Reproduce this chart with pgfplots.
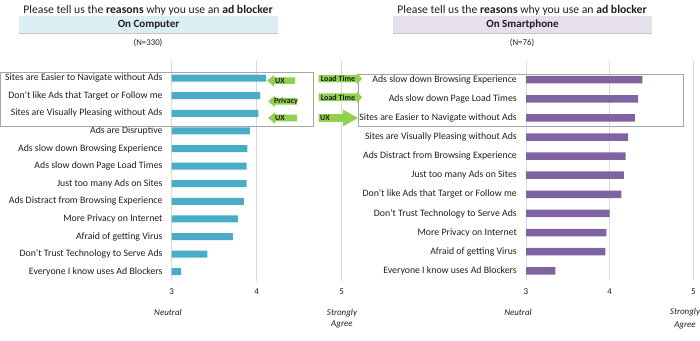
\documentclass[border=0pt]{standalone}
\usepackage{pgfplots}
\pgfplotsset{compat=1.18}
\usepackage{fontspec}
\setmainfont{Carlito}
\definecolor{barL}{HTML}{4BACC6}
\definecolor{barR}{HTML}{8064A2}
\definecolor{gridc}{HTML}{D9D9D9}
\definecolor{arrg}{HTML}{92D050}
\definecolor{bandL}{HTML}{DAEEF3}
\definecolor{bandR}{HTML}{E5E0EC}
\definecolor{boxc}{HTML}{A6A6A6}
\definecolor{txt}{HTML}{1F1F1F}
\newcommand{\larrow}[7]{% tip, base, end, y, bodyhalf, headhalf, text
  \fill[arrg] (#1pt,#4pt) -- (#2pt,#4pt+#6pt) -- (#2pt,#4pt+#5pt) -- (#3pt,#4pt+#5pt) -- (#3pt,#4pt-#5pt) -- (#2pt,#4pt-#5pt) -- (#2pt,#4pt-#6pt) -- cycle;}
\pgfplotsset{
  mystyle/.style={
    scale only axis,
    xmin=3, xmax=5, y dir=reverse,
    xbar, bar shift=0pt,
    axis line style={draw=none},
    xtick={3,4,5},
    xmajorgrids, grid style={gridc, line width=0.9pt},
    major tick length=0pt,
    /pgf/number format/assume math mode=true,
    xticklabel style={font=\fontsize{9}{10}\selectfont, text=txt, inner sep=0pt, yshift=-8pt},
    yticklabel style={font=\fontsize{9.8}{11}\selectfont, text=txt, inner sep=0pt, xshift=-9pt},
  }
}
\begin{document}
\begin{tikzpicture}
\useasboundingbox (0pt,0pt) rectangle (700pt,340pt);
% left header
\node[font=\fontsize{11.7}{13}\selectfont, text=txt] at (148pt,330pt) {Please tell us the \textbf{reasons} why you use an \textbf{ad blocker}};
\fill[bandL] (19pt,307pt) rectangle (278pt,324pt);
\draw[gray!45, line width=0.8pt] (19pt,307pt) -- (278pt,307pt);
\node[font=\bfseries\fontsize{11}{12}\selectfont, text=txt] at (148.5pt,315.5pt) {On Computer};
\node[font=\fontsize{8.8}{10}\selectfont, text=txt] at (148pt,297pt) {(N=330)};
% right header
\node[font=\fontsize{11.7}{13}\selectfont, text=txt] at (522pt,330pt) {Please tell us the \textbf{reasons} why you use an \textbf{ad blocker}};
\fill[bandR] (393pt,307pt) rectangle (652pt,324pt);
\draw[gray!45, line width=0.8pt] (393pt,307pt) -- (652pt,307pt);
\node[font=\bfseries\fontsize{11}{12}\selectfont, text=txt] at (522.5pt,315.5pt) {On Smartphone};
\node[font=\fontsize{8.8}{10}\selectfont, text=txt] at (522pt,297pt) {(N=76)};

\begin{axis}[mystyle,
  at={(171.7pt,59.5pt)}, anchor=south west,
  width=170pt, height=220pt,
  ymin=0, ymax=12.5, bar width=7pt,
  ytick={1,...,12},
  yticklabels={Sites are Easier to Navigate without Ads,
    Don’t like Ads that Target or Follow me,
    Sites are Visually Pleasing without Ads,
    Ads are Disruptive,
    Ads slow down Browsing Experience,
    Ads slow down Page Load Times,
    Just too many Ads on Sites,
    Ads Distract from Browsing Experience,
    More Privacy on Internet,
    Afraid of getting Virus,
    Don’t Trust Technology to Serve Ads,
    Everyone I know uses Ad Blockers},
]
\addplot[fill=barL, draw=none] coordinates {
  (4.11,1) (4.04,2) (4.02,3) (3.92,4) (3.89,5) (3.88,6)
  (3.88,7) (3.85,8) (3.78,9) (3.72,10) (3.42,11) (3.11,12)};
\end{axis}

\begin{axis}[mystyle,
  at={(526pt,59.7pt)}, anchor=south west,
  width=167.3pt, height=219.7pt,
  ymin=0, ymax=11.5, bar width=7.5pt,
  ytick={1,...,11},
  yticklabels={Ads slow down Browsing Experience,
    Ads slow down Page Load Times,
    Sites are Easier to Navigate without Ads,
    Sites are Visually Pleasing without Ads,
    Ads Distract from Browsing Experience,
    Just too many Ads on Sites,
    Don’t like Ads that Target or Follow me,
    Don’t Trust Technology to Serve Ads,
    More Privacy on Internet,
    Afraid of getting Virus,
    Everyone I know uses Ad Blockers},
]
\addplot[fill=barR, draw=none] coordinates {
  (4.39,1) (4.34,2) (4.30,3) (4.22,4) (4.19,5) (4.17,6)
  (4.14,7) (4.00,8) (3.96,9) (3.95,10) (3.35,11)};
\end{axis}

% bottom scale labels
\begin{scope}[every node/.style={font=\itshape\fontsize{9}{10}\selectfont, text=txt}]
\node at (168pt,28pt) {Neutral};
\node at (342pt,27pt) {Strongly};
\node at (342pt,16pt) {Agree};
\node at (518pt,28pt) {Neutral};
\node at (685pt,28pt) {Strongly};
\node at (685pt,15pt) {Agree};
\end{scope}

% highlight boxes
\draw[boxc, line width=0.7pt] (0.5pt,268pt) rectangle (313pt,214pt);
\draw[boxc, line width=0.7pt] (358pt,266pt) rectangle (683pt,214pt);

% arrows (left pointing)
\larrow{267}{274}{295}{259.3}{3.3}{5.8}{}
\larrow{268}{275}{297}{238.7}{3.3}{5.8}{}
\larrow{268}{275}{297}{222}{3.3}{5.8}{}
% arrows (right pointing)
\larrow{362}{357}{318.5}{261.3}{3.8}{5.8}{}
\larrow{362}{357}{318.5}{242.7}{3.8}{5.8}{}
\larrow{358}{343}{318.5}{222}{3.8}{8.3}{}
\begin{scope}[every node/.style={font=\bfseries\fontsize{8}{9}\selectfont, text=txt, inner sep=0pt}]
\node at (280pt,259.3pt) {UX};
\node at (286pt,238.7pt) {Privacy};
\node at (280pt,222pt) {UX};
\node at (338pt,261.3pt) {Load Time};
\node at (338pt,242.7pt) {Load Time};
\node at (325pt,222pt) {UX};
\end{scope}
\end{tikzpicture}
\end{document}
